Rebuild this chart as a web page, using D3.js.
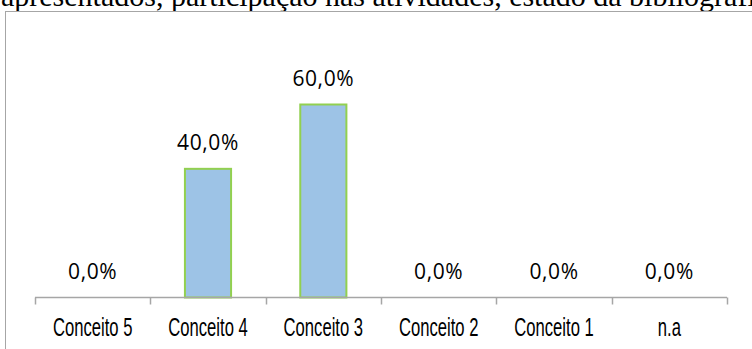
<!DOCTYPE html>
<html>
<head>
<meta charset="utf-8">
<script src="https://cdn.jsdelivr.net/npm/d3@7"></script>
<style>
  html, body { margin: 0; padding: 0; background: #fff; overflow: hidden; }
  svg { display: block; }
</style>
</head>
<body>
<script>
// Distribuição dos conceitos
const categories = ["Conceito 5", "Conceito 4", "Conceito 3", "Conceito 2", "Conceito 1", "n.a"];
const values = [0.0, 0.40, 0.60, 0.0, 0.0, 0.0];
const headingText = "apresentados, participação nas atividades, estado da bibliografia";

const W = 752, H = 349;
const svg = d3.select("body").append("svg").attr("width", W).attr("height", H);

// running text of the surrounding document, cut by the top edge
svg.append("text")
  .attr("x", 1).attr("y", 6)
  .attr("font-family", "Liberation Serif, Times New Roman, serif")
  .attr("font-size", 30)
  .attr("fill", "#000")
  .text(headingText);

// chart frame
svg.append("rect")
  .attr("x", 5.5).attr("y", 11.5)
  .attr("width", W + 10).attr("height", H + 10)
  .attr("fill", "#fff")
  .attr("stroke", "#a6a6a6")
  .attr("stroke-width", 1);

const axisY = 297.5;
const x = d3.scaleBand()
  .domain(categories)
  .range([35, 727])
  .paddingInner(0.6)
  .paddingOuter(0.3);

const y = d3.scaleLinear().domain([0, 0.6]).range([axisY, 104.5]);

const fmt = v => d3.format(".1f")(v * 100).replace(".", ",") + "%";

// bars
svg.append("g").selectAll("rect")
  .data(categories.map((c, i) => ({ c, v: values[i] })).filter(d => d.v > 0))
  .join("rect")
  .attr("x", d => x(d.c))
  .attr("y", d => y(d.v))
  .attr("width", x.bandwidth())
  .attr("height", d => y(0) - y(d.v))
  .attr("fill", "#9dc3e6")
  .attr("stroke", "#92d050")
  .attr("stroke-width", 2);

// category axis with ticks between categories
const step = x.step();
const bounds = d3.range(categories.length + 1).map(i => x.range()[0] + i * step);
const axisG = svg.append("g");
axisG.append("line")
  .attr("x1", bounds[0]).attr("x2", bounds[bounds.length - 1])
  .attr("y1", axisY).attr("y2", axisY)
  .attr("stroke", "#a6a6a6").attr("stroke-width", 1.5);
axisG.selectAll("line.tick")
  .data(bounds)
  .join("line")
  .attr("class", "tick")
  .attr("x1", d => Math.round(d) + 0.5).attr("x2", d => Math.round(d) + 0.5)
  .attr("y1", axisY).attr("y2", axisY + 7)
  .attr("stroke", "#a6a6a6").attr("stroke-width", 1.5);

// category labels (tall condensed face)
axisG.selectAll("text.cat")
  .data(categories)
  .join("text")
  .attr("class", "cat")
  .attr("transform", d => `translate(${x(d) + x.bandwidth() / 2},335.5) scale(0.64,1)`)
  .attr("text-anchor", "middle")
  .attr("font-family", "Liberation Sans, Arial, sans-serif")
  .attr("font-size", 26)
  .attr("fill", "#000")
  .text(d => d);

// value labels
svg.append("g").selectAll("text")
  .data(categories.map((c, i) => ({ c, v: values[i] })))
  .join("text")
  .attr("x", d => x(d.c) + x.bandwidth() / 2)
  .attr("y", d => y(d.v) - 19)
  .attr("text-anchor", "middle")
  .attr("font-family", "Open Sans, sans-serif")
  .attr("font-size", 21)
  .attr("letter-spacing", 0.6)
  .attr("fill", "#000")
  .text(d => fmt(d.v));
</script>
</body>
</html>
